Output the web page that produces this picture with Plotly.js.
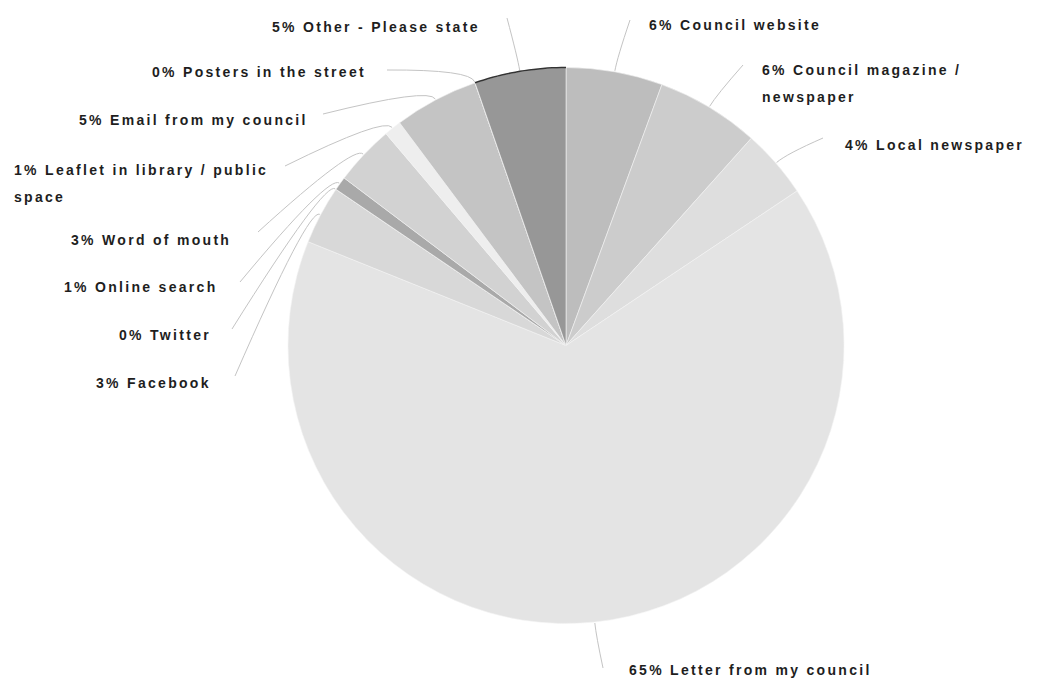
<!DOCTYPE html>
<html><head><meta charset="utf-8">
<script src="https://cdn.plot.ly/plotly-3.0.1.min.js"></script>
<style>
html,body{margin:0;padding:0;background:#fff;}
#chart{width:1038px;height:679px;}
.annotation-text{letter-spacing:2.3px;}
</style></head><body><div id="chart"></div>
<script>
// ---- data (clockwise from 12 o'clock) ----
const categories = ["Council website","Council magazine / newspaper","Local newspaper","Letter from my council","Facebook","Twitter","Online search","Word of mouth","Leaflet in library / public space","Email from my council","Posters in the street","Other - Please state"];
const values = [5.6, 6.0, 4.0, 65.4, 3.4, 0, 0.8, 3.49, 1.0, 4.9, 0, 5.3];
const colors = ["#bdbdbd","#cccccc","#dedede","#e4e4e4","#d8d8d8","#d0d0d0","#a9a9a9","#d2d2d2","#eeeeee","#c4c4c4","#222222","#979797"];

// ---- layout (pixel positions) ----
const W = 1038, H = 679, cx = 566, cy = 345.5, R = 278;
const wrapWords = [0,3,0,0,0,0,0,0,5,0,0,0];
const labelX = [647, 760, 843, 627, 213, 213, 220, 233, 12, 310, 368, 482];
const labelY = [25, 70, 145, 670, 383, 335, 287, 240, 170, 120, 72, 27];
const labelAnchor = ["left","left","left","left","right","right","right","right","left","right","right","right"];
const lineGap = 27;
const connX = [630, 743, 823, 603, 235, 232, 240, 258, 285, 323, 387, 507];
const connY = [20, 65, 138, 668, 376, 329, 282, 232, 166, 114, 70, 18];

const px = x => x / W, py = y => 1 - y / H;
const total = values.reduce((a, b) => a + b, 0);

const annotations = [], shapes = [];
let cum = 0;
const midAngles = [];
values.forEach((v, i) => {
  const a0 = cum / total * 360;
  cum += v;
  const a1 = cum / total * 360;
  midAngles.push((a0 + a1) / 2);
});
const pt = (deg, r) => {
  const t = deg * Math.PI / 180;
  return [cx + r * Math.sin(t), cy - r * Math.cos(t)];
};

categories.forEach((c, i) => {
  const pct = Math.round(values[i] / total * 100) + "% ";
  const words = c.split(" ");
  let lines = [c];
  if (wrapWords[i] > 0) lines = [words.slice(0, wrapWords[i]).join(" "), words.slice(wrapWords[i]).join(" ")];
  lines[0] = pct + lines[0];
  lines.forEach((ln, k) => {
    annotations.push({
      xref: "paper", yref: "paper",
      x: px(labelX[i]), y: py(labelY[i] + k * lineGap),
      xanchor: labelAnchor[i], yanchor: "middle",
      text: ln, showarrow: false,
      font: {family: "Liberation Sans, Arial, sans-serif", size: 14, weight: "bold", color: "#1e1e1e"}
    });
  });
  const knee = pt(midAngles[i], R + 14);
  const edge = pt(midAngles[i], R + 1);
  shapes.push({
    type: "path", xref: "paper", yref: "paper",
    path: `M ${px(connX[i])} ${py(connY[i])} Q ${px(knee[0])} ${py(knee[1])} ${px(edge[0])} ${py(edge[1])}`,
    line: {color: "#c4c4c4", width: 1}
  });
});

// dark rim along the last slice's outer arc
{
  const last = values.length - 1;
  const a0 = (total - values[last]) / total * 360, a1 = 360;
  let p = "";
  for (let s = 0; s <= 20; s++) {
    const q = pt(a0 + (a1 - a0) * s / 20, R);
    p += (s === 0 ? "M " : " L ") + px(q[0]) + " " + py(q[1]);
  }
  shapes.push({type: "path", xref: "paper", yref: "paper", path: p, line: {color: "#333333", width: 1.5}});
}

const trace = {
  type: "pie",
  labels: categories,
  values: values,
  sort: false,
  direction: "clockwise",
  rotation: 0,
  textinfo: "none",
  hoverinfo: "skip",
  marker: {colors: colors, line: {color: "#f4f4f4", width: 0.6}},
  domain: {x: [(cx - R) / W, (cx + R) / W], y: [1 - (cy + R) / H, 1 - (cy - R) / H]},
  showlegend: false
};

Plotly.newPlot("chart", [trace], {
  width: W, height: H,
  margin: {l: 0, r: 0, t: 0, b: 0},
  paper_bgcolor: "#ffffff",
  showlegend: false,
  annotations: annotations,
  shapes: shapes
}, {displayModeBar: false, staticPlot: true});
</script></body></html>
